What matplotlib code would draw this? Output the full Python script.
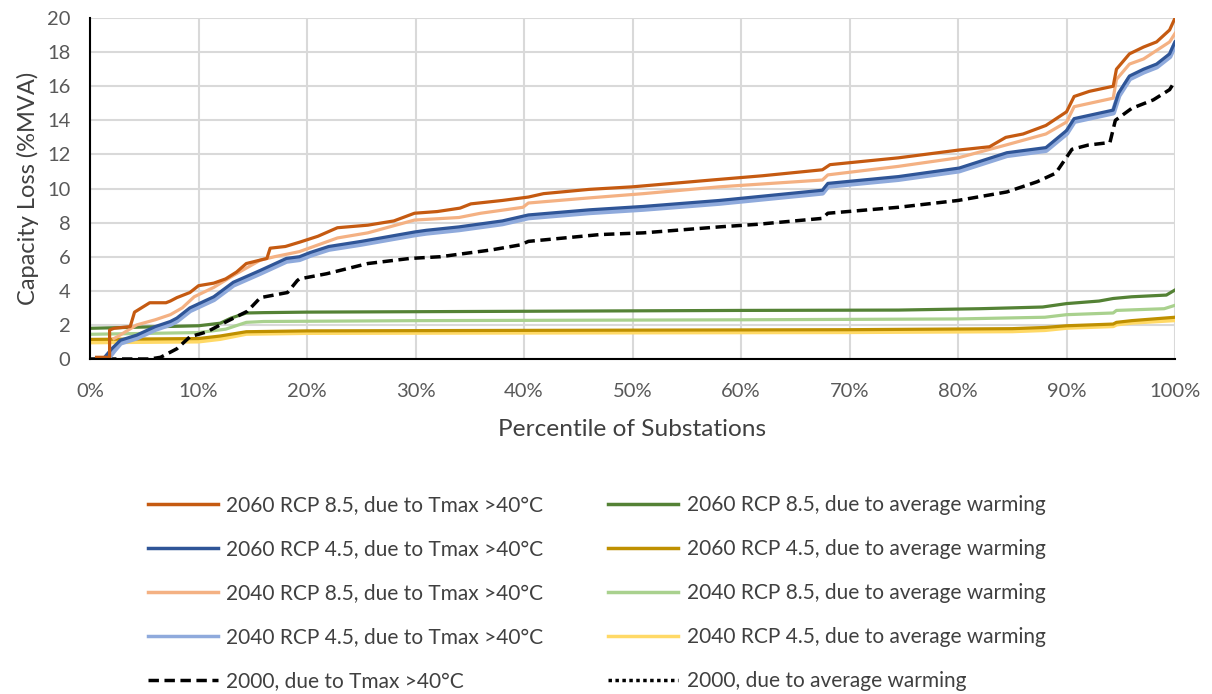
import numpy as np
import matplotlib.pyplot as plt
from matplotlib.ticker import PercentFormatter

plt.rcParams['font.family'] = ['Lato', 'DejaVu Sans']

# percentile of substations (%) and capacity loss (%MVA) for each scenario
x_2060_85_tmax = [0.6, 1.8, 1.8, 2.2, 3.7, 4.1, 5.5, 7.0, 7.4, 8.0, 9.2, 10.0, 11.4, 12.5, 13.5, 14.4, 16.3, 16.6, 18.0, 19.3,
                  21.0, 22.8, 25.6, 28.0, 29.9, 32.0, 34.1, 35.1, 38.0, 40.4, 41.8, 46.0, 50.0, 57.3, 62.0, 67.5, 68.2, 74.5,
                  80.1, 82.9, 84.4, 86.0, 88.1, 90.0, 90.7, 92.1, 94.3, 94.6, 95.8, 97.1, 98.3, 99.5, 100]
y_2060_85_tmax = [0.1, 0.1, 1.7, 1.8, 1.9, 2.75, 3.3, 3.3, 3.4, 3.6, 3.9, 4.3, 4.45, 4.7, 5.1, 5.6, 5.9, 6.5, 6.6, 6.85,
                  7.2, 7.7, 7.85, 8.1, 8.55, 8.65, 8.85, 9.1, 9.3, 9.5, 9.7, 9.95, 10.1, 10.5, 10.75, 11.1, 11.4, 11.8,
                  12.26, 12.45, 13.0, 13.2, 13.7, 14.5, 15.4, 15.7, 16.0, 17.0, 17.9, 18.3, 18.6, 19.3, 20.0]

x_2060_45_tmax = [1.2, 2.0, 2.8, 4.3, 6.0, 7.4, 8.0, 9.2, 11.4, 13.2, 15.7, 18.1, 19.3, 20.3, 22.0, 25.0, 29.9, 31.0, 34.0,
                  38.0, 40.4, 46.0, 51.0, 58.0, 67.5, 68.0, 74.5, 80.1, 84.5, 88.1, 90.0, 90.7, 94.3, 94.8, 95.8, 97.1,
                  98.3, 99.5, 100]
y_2060_45_tmax = [0.0, 0.6, 1.1, 1.4, 1.9, 2.2, 2.4, 3.0, 3.65, 4.5, 5.2, 5.9, 6.0, 6.25, 6.6, 6.9, 7.45, 7.55, 7.75,
                  8.1, 8.45, 8.75, 8.95, 9.3, 9.9, 10.3, 10.7, 11.2, 12.1, 12.4, 13.4, 14.1, 14.6, 15.6, 16.6, 17.0,
                  17.3, 17.9, 18.6]

x_2040_85_tmax = [2.2, 2.5, 4.3, 6.0, 7.4, 8.5, 9.6, 11.4, 13.2, 15.7, 17.0, 19.3, 22.8, 25.6, 29.9, 34.0, 36.0, 39.9,
                  40.4, 46.0, 51.0, 58.0, 67.5, 68.0, 74.5, 80.0, 84.4, 88.1, 90.0, 90.7, 94.3, 94.6, 95.8, 97.1, 98.3,
                  99.5, 100]
y_2040_85_tmax = [1.2, 1.3, 2.0, 2.3, 2.6, 3.0, 3.65, 4.2, 4.9, 5.8, 6.0, 6.3, 7.1, 7.4, 8.15, 8.3, 8.55, 8.9,
                  9.15, 9.45, 9.7, 10.1, 10.5, 10.8, 11.3, 11.8, 12.55, 13.2, 13.9, 14.8, 15.3, 16.4, 17.3, 17.6, 18.1,
                  18.6, 19.1]

x_2040_45_tmax = [1.6, 2.2, 2.8, 4.3, 6.0, 7.4, 8.0, 9.2, 11.4, 13.2, 15.7, 18.1, 19.3, 20.3, 22.0, 25.0, 29.9, 31.0, 34.0,
                  38.0, 40.4, 46.0, 51.0, 58.0, 67.5, 68.0, 74.5, 80.1, 84.5, 88.1, 90.0, 90.7, 94.3, 94.8, 95.8, 97.1,
                  98.3, 99.5, 100]
y_2040_45_tmax = [0.0, 0.5, 0.95, 1.25, 1.75, 2.05, 2.25, 2.85, 3.5, 4.35, 5.05, 5.75, 5.85, 6.1, 6.45, 6.75, 7.3, 7.4, 7.6,
                  7.95, 8.3, 8.6, 8.8, 9.15, 9.75, 10.15, 10.55, 11.05, 11.95, 12.25, 13.25, 13.95, 14.45, 15.45, 16.45,
                  16.85, 17.15, 17.75, 18.45]

x_2000_tmax = [0, 5.5, 6.5, 8.0, 9.2, 10.8, 12.6, 14.5, 15.7, 18.2, 19.1, 19.3, 21.8, 25.6, 29.5, 32.3, 37.0, 39.7, 40.4,
               47.0, 51.0, 58.0, 61.5, 67.5, 68.0, 74.5, 80.0, 84.5, 87.3, 89.0, 90.5, 92.0, 94.0, 94.5, 96.0, 98.0,
               99.5, 100]
y_2000_tmax = [0, 0, 0.1, 0.6, 1.3, 1.6, 2.2, 2.8, 3.6, 3.9, 4.6, 4.7, 5.0, 5.6, 5.9, 6.0, 6.4, 6.7, 6.9,
               7.3, 7.4, 7.75, 7.9, 8.25, 8.55, 8.9, 9.3, 9.8, 10.4, 10.9, 12.3, 12.55, 12.7, 14.0, 14.7, 15.2,
               15.8, 16.3]

x_2060_85_avg = [0, 10.0, 12.0, 13.0, 14.4, 16.0, 20.0, 40.0, 60.0, 74.5, 82.0, 85.0, 87.8, 90.0, 93.0, 94.3, 96.0, 99.2, 100]
y_2060_85_avg = [1.8, 1.95, 2.1, 2.4, 2.7, 2.72, 2.75, 2.8, 2.85, 2.87, 2.95, 3.0, 3.05, 3.25, 3.4, 3.55, 3.65, 3.75, 4.05]

x_2040_85_avg = [0, 10.0, 12.5, 14.4, 16.0, 30.0, 60.0, 80.0, 88.0, 90.0, 94.3, 94.6, 99.0, 100]
y_2040_85_avg = [1.45, 1.55, 1.75, 2.15, 2.2, 2.25, 2.3, 2.35, 2.45, 2.6, 2.7, 2.85, 2.95, 3.15]

x_2060_45_avg = [0, 10.0, 12.0, 14.4, 20.0, 40.0, 70.0, 85.0, 88.0, 90.0, 94.3, 94.6, 96.0, 100]
y_2060_45_avg = [1.15, 1.2, 1.35, 1.6, 1.65, 1.68, 1.72, 1.78, 1.85, 1.95, 2.05, 2.15, 2.25, 2.45]

x_2040_45_avg = [0, 10.0, 12.0, 14.4, 20.0, 40.0, 70.0, 85.0, 88.0, 90.0, 94.3, 94.6, 96.0, 100]
y_2040_45_avg = [1.0, 1.05, 1.2, 1.5, 1.55, 1.57, 1.6, 1.65, 1.72, 1.85, 1.95, 2.05, 2.15, 2.3]

x_2000_avg = [0, 100]
y_2000_avg = [0, 0]

txt = '#595959'

fig = plt.figure(figsize=(12.12, 6.94), dpi=100)
ax = fig.add_axes([0.0743, 0.4827, 0.8952, 0.4913])

lw = 2.3
h = {}
h['2040_45_avg'], = ax.plot(x_2040_45_avg, y_2040_45_avg, color='#FFD966', lw=lw + 1.2)
h['2060_45_avg'], = ax.plot(x_2060_45_avg, y_2060_45_avg, color='#BF9000', lw=lw)
h['2040_85_avg'], = ax.plot(x_2040_85_avg, y_2040_85_avg, color='#A9D18E', lw=lw)
h['2060_85_avg'], = ax.plot(x_2060_85_avg, y_2060_85_avg, color='#548235', lw=lw)
h['2000_tmax'], = ax.plot(x_2000_tmax, y_2000_tmax, color='black', lw=2.5, ls=(0, (3, 1.6)))
h['2040_45_tmax'], = ax.plot(x_2040_45_tmax, y_2040_45_tmax, color='#8FAADC', lw=lw + 1.8)
h['2060_45_tmax'], = ax.plot(x_2060_45_tmax, y_2060_45_tmax, color='#2F5597', lw=lw)
h['2040_85_tmax'], = ax.plot(x_2040_85_tmax, y_2040_85_tmax, color='#F4B183', lw=lw)
h['2060_85_tmax'], = ax.plot(x_2060_85_tmax, y_2060_85_tmax, color='#C55A11', lw=lw)
h['2000_avg'], = ax.plot(x_2000_avg, y_2000_avg, color='black', lw=2, ls=(0, (1, 1)))

ax.set_xlim(0, 100)
ax.set_ylim(0, 20)
ax.set_xticks(np.arange(0, 101, 10))
ax.set_yticks(np.arange(0, 21, 2))
ax.xaxis.set_major_formatter(PercentFormatter(decimals=0))
ax.grid(True, color='#d9d9d9', lw=1.5)
ax.set_axisbelow(True)
for s in ['top', 'right']:
    ax.spines[s].set_visible(False)
for s in ['left', 'bottom']:
    ax.spines[s].set_color('black')
    ax.spines[s].set_linewidth(1.5)
ax.tick_params(length=0, labelsize=14.5, colors=txt)
ax.tick_params(axis='x', pad=17)
ax.tick_params(axis='y', pad=14)
ax.set_xlabel('Percentile of Substations', fontsize=17.6, color='#404040', labelpad=14)
ax.set_ylabel('Capacity Loss (%MVA)', fontsize=17, color='#404040', labelpad=6)

order = ['2060_85_tmax', '2060_45_tmax', '2040_85_tmax', '2040_45_tmax', '2000_tmax',
         '2060_85_avg', '2060_45_avg', '2040_85_avg', '2040_45_avg', '2000_avg']
labels = {
    '2060_85_tmax': '2060 RCP 8.5, due to Tmax >40°C',
    '2060_45_tmax': '2060 RCP 4.5, due to Tmax >40°C',
    '2040_85_tmax': '2040 RCP 8.5, due to Tmax >40°C',
    '2040_45_tmax': '2040 RCP 4.5, due to Tmax >40°C',
    '2000_tmax': '2000, due to Tmax >40°C',
    '2060_85_avg': '2060 RCP 8.5, due to average warming',
    '2060_45_avg': '2060 RCP 4.5, due to average warming',
    '2040_85_avg': '2040 RCP 8.5, due to average warming',
    '2040_45_avg': '2040 RCP 4.5, due to average warming',
    '2000_avg': '2000, due to average warming',
}
leg = fig.legend([h[k] for k in order], [labels[k] for k in order], ncol=2,
                 loc='upper left', bbox_to_anchor=(0.115, 0.299), frameon=False,
                 fontsize=15, handlelength=3.35, handletextpad=0.43, columnspacing=3.1,
                 labelspacing=1.155, borderaxespad=0)
for t in leg.get_texts():
    t.set_color('#404040')
for ln in leg.get_lines():
    ln.set_linewidth(2.5)

fig.savefig('out.png', dpi=100)
